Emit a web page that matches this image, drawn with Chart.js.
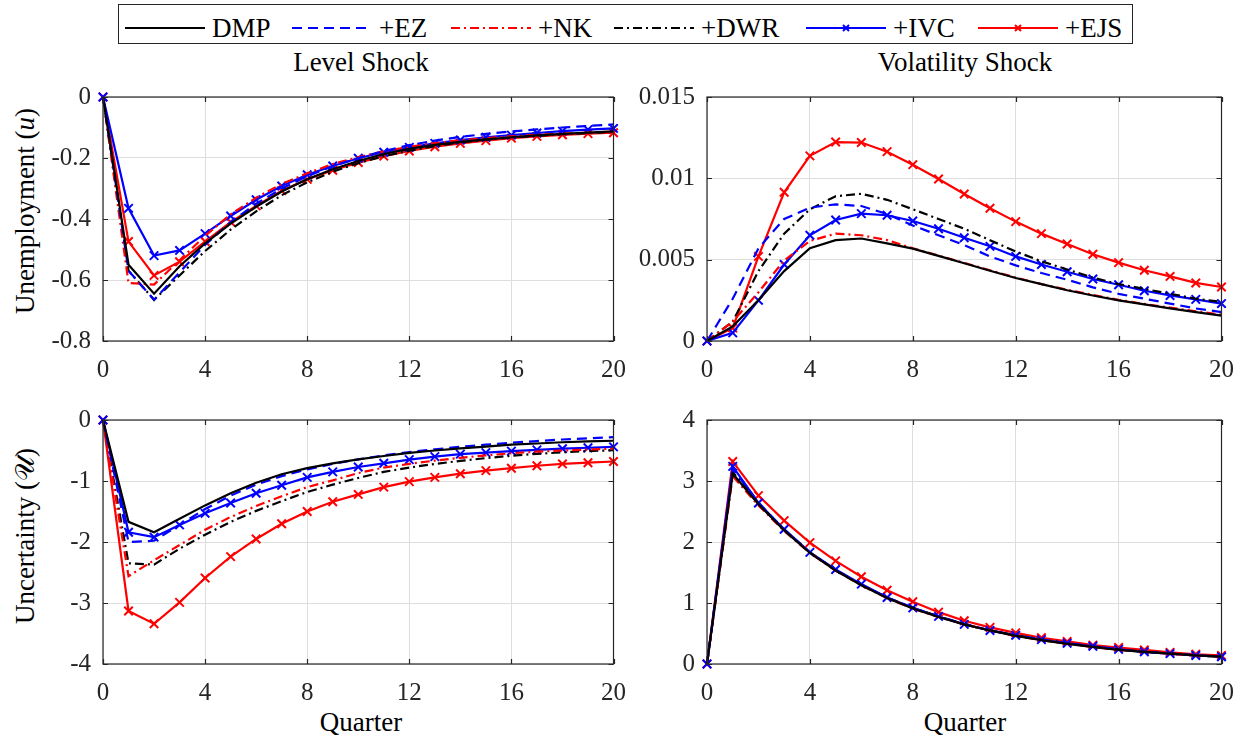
<!DOCTYPE html>
<html>
<head>
<meta charset="utf-8">
<script src="https://cdn.jsdelivr.net/npm/chart.js@4/dist/chart.umd.min.js"></script>
<style>
  html, body { margin:0; padding:0; background:#fff; }
  body { width:1248px; height:738px; position:relative; overflow:hidden; font-family:"Liberation Serif", "Times New Roman", Tinos, serif; color:#000; }
  canvas { position:absolute; }
  .txt { position:absolute; font-size:27px; white-space:nowrap; line-height:1; }
  .ttl { transform:translate(-50%, -50%); }
  .ylab { transform:translate(-50%, -50%) rotate(-90deg); }
  #legend { position:absolute; left:118px; top:4px; width:1013px; height:38px; border:1px solid #262626; }
  #legend svg { position:absolute; top:16px; }
  #legend span { position:absolute; top:10px; font-size:27px; line-height:1; white-space:nowrap; }
</style>
</head>
<body>
<div id="legend"></div>
<div class="txt ttl" style="left:361px; top:62px;">Level Shock</div>
<div class="txt ttl" style="left:965px; top:62px;">Volatility Shock</div>
<div class="txt ylab" style="left:25px; top:211px;">Unemployment (<i>u</i>)</div>
<div class="txt ylab" style="left:25px; top:536px;">Uncertainty (𝒰)</div>
<div class="txt ttl" style="left:361px; top:722px;">Quarter</div>
<div class="txt ttl" style="left:965px; top:722px;">Quarter</div>

<canvas id="c1" width="640" height="330" style="left:0px; top:70px;"></canvas>
<canvas id="c2" width="618" height="330" style="left:630px; top:70px;"></canvas>
<canvas id="c3" width="640" height="345" style="left:0px; top:393px;"></canvas>
<canvas id="c4" width="618" height="345" style="left:630px; top:393px;"></canvas>

<script>
// ---------------- DATA ----------------
const quarters = [0,1,2,3,4,5,6,7,8,9,10,11,12,13,14,15,16,17,18,19,20];
const seriesNames = ["DMP", "+EZ", "+NK", "+DWR", "+IVC", "+EJS"];
const xTicks = [0, 4, 8, 12, 16, 20];

// Level shock, unemployment
const levelU_DMP = [0,-0.55,-0.645,-0.555,-0.48,-0.415,-0.36,-0.31,-0.27,-0.237,-0.21,-0.187,-0.17,-0.157,-0.147,-0.139,-0.132,-0.126,-0.121,-0.117,-0.113];
const levelU_EZ  = [0,-0.57,-0.665,-0.575,-0.485,-0.41,-0.35,-0.3,-0.26,-0.227,-0.2,-0.177,-0.158,-0.143,-0.131,-0.121,-0.113,-0.106,-0.1,-0.095,-0.09];
const levelU_NK  = [0,-0.61,-0.615,-0.535,-0.455,-0.385,-0.33,-0.285,-0.25,-0.22,-0.197,-0.178,-0.163,-0.151,-0.142,-0.135,-0.129,-0.124,-0.12,-0.117,-0.114];
const levelU_DWR = [0,-0.57,-0.665,-0.585,-0.505,-0.435,-0.375,-0.322,-0.28,-0.245,-0.217,-0.194,-0.176,-0.161,-0.149,-0.14,-0.133,-0.127,-0.122,-0.118,-0.115];
const levelU_IVC = [0,-0.365,-0.52,-0.503,-0.448,-0.39,-0.337,-0.292,-0.255,-0.226,-0.201,-0.181,-0.165,-0.152,-0.141,-0.132,-0.125,-0.118,-0.112,-0.107,-0.103];
const levelU_EJS = [0,-0.474,-0.585,-0.54,-0.474,-0.41,-0.357,-0.307,-0.27,-0.24,-0.215,-0.194,-0.177,-0.163,-0.152,-0.143,-0.135,-0.129,-0.124,-0.12,-0.117];

// Volatility shock, unemployment
const volU_DMP = [0,0.0009,0.0025,0.0043,0.0057,0.0062,0.0063,0.006,0.00568,0.00523,0.00478,0.00432,0.00387,0.0035,0.00312,0.0028,0.0025,0.00225,0.00201,0.00178,0.00156];
const volU_EZ  = [0,0.0026,0.0057,0.0075,0.0082,0.0084,0.0083,0.0078,0.0071,0.0065,0.0059,0.0052,0.00465,0.00418,0.00377,0.0033,0.0029,0.0026,0.0023,0.002,0.00178];
const volU_NK  = [0,0.0012,0.003,0.00495,0.00615,0.0066,0.0065,0.0062,0.0057,0.00525,0.0048,0.00435,0.0039,0.0035,0.00315,0.00283,0.00253,0.00228,0.00205,0.00183,0.00162];
const volU_DWR = [0,0.0012,0.0043,0.0066,0.0081,0.0089,0.00905,0.00868,0.0081,0.0075,0.0069,0.0062,0.0055,0.0049,0.0044,0.0039,0.0035,0.0032,0.0029,0.0026,0.0024];
const volU_IVC = [0,0.0005,0.0025,0.0047,0.0065,0.00744,0.00783,0.00773,0.00738,0.0069,0.00635,0.00582,0.0052,0.0047,0.00426,0.00381,0.00346,0.00309,0.0028,0.00256,0.0023];
const volU_EJS = [0,0.0008,0.0052,0.00914,0.01138,0.01223,0.0122,0.01164,0.01084,0.00996,0.00904,0.00816,0.00734,0.0066,0.00596,0.00533,0.00482,0.00435,0.00397,0.00357,0.00332];

// Level shock, uncertainty
const levelX_DMP = [0,-1.67,-1.84,-1.62,-1.4,-1.2,-1.03,-0.89,-0.79,-0.71,-0.645,-0.59,-0.54,-0.5,-0.465,-0.435,-0.405,-0.385,-0.365,-0.352,-0.34];
const levelX_EZ  = [0,-2.0,-1.98,-1.72,-1.46,-1.24,-1.06,-0.92,-0.81,-0.72,-0.645,-0.58,-0.525,-0.48,-0.44,-0.405,-0.372,-0.345,-0.32,-0.3,-0.28];
const levelX_NK  = [0,-2.56,-2.3,-2.05,-1.8,-1.59,-1.41,-1.25,-1.1,-0.99,-0.87,-0.78,-0.72,-0.665,-0.62,-0.58,-0.545,-0.52,-0.5,-0.485,-0.47];
const levelX_DWR = [0,-2.35,-2.37,-2.11,-1.88,-1.67,-1.49,-1.33,-1.18,-1.06,-0.95,-0.85,-0.78,-0.72,-0.67,-0.625,-0.585,-0.555,-0.53,-0.51,-0.495];
const levelX_IVC = [0,-1.84,-1.92,-1.72,-1.53,-1.36,-1.2,-1.07,-0.94,-0.85,-0.77,-0.71,-0.65,-0.6,-0.56,-0.535,-0.51,-0.49,-0.47,-0.455,-0.44];
const levelX_EJS = [0,-3.13,-3.34,-2.99,-2.59,-2.24,-1.95,-1.7,-1.5,-1.34,-1.22,-1.1,-1.01,-0.94,-0.88,-0.83,-0.79,-0.75,-0.72,-0.7,-0.68];

// Volatility shock, uncertainty
const volX_DMP = [0,3.12,2.62,2.19,1.82,1.53,1.29,1.08,0.91,0.77,0.65,0.55,0.46,0.39,0.33,0.28,0.23,0.2,0.17,0.14,0.12];
const volX_EZ  = [0,3.2,2.65,2.2,1.83,1.54,1.3,1.09,0.92,0.78,0.66,0.55,0.47,0.4,0.34,0.29,0.24,0.2,0.17,0.14,0.12];
const volX_NK  = [0,3.08,2.6,2.18,1.82,1.53,1.29,1.08,0.91,0.77,0.65,0.55,0.46,0.39,0.33,0.28,0.23,0.2,0.17,0.14,0.12];
const volX_DWR = [0,3.15,2.63,2.2,1.83,1.54,1.3,1.09,0.92,0.78,0.65,0.55,0.47,0.4,0.34,0.28,0.24,0.2,0.17,0.14,0.12];
const volX_IVC = [0,3.24,2.64,2.21,1.83,1.55,1.31,1.09,0.92,0.78,0.65,0.55,0.47,0.4,0.34,0.29,0.24,0.2,0.17,0.14,0.12];
const volX_EJS = [0,3.32,2.76,2.35,1.99,1.69,1.43,1.21,1.02,0.85,0.71,0.6,0.51,0.43,0.37,0.31,0.27,0.23,0.19,0.16,0.14];

// ---------------- STYLES ----------------
const styles = [
  { color:"#000000", dash:[],          marker:false },
  { color:"#0000ff", dash:[10,6],      marker:false },
  { color:"#ff0000", dash:[9,4,2,4],   marker:false },
  { color:"#000000", dash:[9,4,2,4],   marker:false },
  { color:"#0000ff", dash:[],          marker:true  },
  { color:"#ff0000", dash:[],          marker:true  }
];
// legend layout (pixel offsets inside the legend box)
const legendLineLeft = [6, 173, 332, 495, 687, 859];

const FONT = "'Liberation Serif', 'Times New Roman', Tinos, serif";
const AX = "#262626";

function makeDatasets(arrs) {
  return arrs.map((arr, i) => ({
    label: seriesNames[i],
    data: quarters.map((q, k) => ({ x: q, y: arr[k] })),
    borderColor: styles[i].color,
    backgroundColor: styles[i].color,
    borderWidth: 2.2,
    borderDash: styles[i].dash,
    pointStyle: styles[i].marker ? "crossRot" : false,
    pointRadius: styles[i].marker ? 6 : 0,
    pointBorderWidth: 2,
    pointBorderColor: styles[i].color,
    tension: 0,
    clip: false
  }));
}

const boxPlugin = {
  id: "matlabBox",
  afterDraw(chart) {
    const { ctx, chartArea: a, scales } = chart;
    ctx.save();
    ctx.strokeStyle = AX;
    ctx.lineWidth = 1.2;
    ctx.setLineDash([]);
    ctx.strokeRect(a.left, a.top, a.right - a.left, a.bottom - a.top);
    const tl = 5;
    ctx.beginPath();
    scales.x.ticks.forEach(t => {
      const px = Math.round(scales.x.getPixelForValue(t.value)) + 0.5;
      ctx.moveTo(px, a.bottom); ctx.lineTo(px, a.bottom - tl);
      ctx.moveTo(px, a.top); ctx.lineTo(px, a.top + tl);
    });
    scales.y.ticks.forEach(t => {
      const py = Math.round(scales.y.getPixelForValue(t.value)) + 0.5;
      ctx.moveTo(a.left, py); ctx.lineTo(a.left + tl, py);
      ctx.moveTo(a.right, py); ctx.lineTo(a.right - tl, py);
    });
    ctx.stroke();
    ctx.restore();
  }
};

function fmt(v) {
  const r = parseFloat(Number(v).toFixed(4));
  return r === 0 ? "0" : String(r);
}

function makeChart(id, arrs, yMin, yMax, yStep, yWidth, padRight, xHeight) {
  return new Chart(document.getElementById(id), {
    type: "line",
    data: { datasets: makeDatasets(arrs) },
    options: {
      responsive: false,
      animation: false,
      events: [],
      layout: { padding: { left: 0, right: padRight, top: 15, bottom: 0 } },
      plugins: { legend: { display: false }, tooltip: { enabled: false } },
      scales: {
        x: {
          type: "linear", min: 0, max: 20,
          afterBuildTicks: s => { s.ticks = xTicks.map(v => ({ value: v })); },
          afterFit: s => { s.height = xHeight; },
          grid: { color: "#dedede", lineWidth: 1, drawTicks: false },
          border: { display: false },
          ticks: { color: AX, font: { family: FONT, size: 25 }, padding: 14, maxRotation: 0, callback: v => fmt(v) }
        },
        y: {
          type: "linear", min: yMin, max: yMax,
          afterBuildTicks: s => {
            const t = [];
            const n = Math.round((yMax - yMin) / yStep);
            for (let k = 0; k <= n; k++) t.push({ value: yMin + k * yStep });
            s.ticks = t;
          },
          afterFit: s => { s.width = yWidth; },
          grid: { color: "#dedede", lineWidth: 1, drawTicks: false },
          border: { display: false },
          ticks: { color: AX, font: { family: FONT, size: 25 }, padding: 12, callback: v => fmt(v) }
        }
      }
    },
    plugins: [boxPlugin]
  });
}

makeChart("c1", [levelU_DMP, levelU_EZ, levelU_NK, levelU_DWR, levelU_IVC, levelU_EJS], -0.8, 0, 0.2, 103, 21, 59);
makeChart("c2", [volU_DMP, volU_EZ, volU_NK, volU_DWR, volU_IVC, volU_EJS], 0, 0.015, 0.005, 77, 25, 59);
makeChart("c3", [levelX_DMP, levelX_EZ, levelX_NK, levelX_DWR, levelX_IVC, levelX_EJS], -4, 0, 1, 103, 21, 74);
makeChart("c4", [volX_DMP, volX_EZ, volX_NK, volX_DWR, volX_IVC, volX_EJS], 0, 4, 1, 77, 25, 74);

// ---------------- LEGEND ----------------
const legend = document.getElementById("legend");
const svgNS = "http://www.w3.org/2000/svg";
seriesNames.forEach((name, i) => {
  const st = styles[i];
  const x0 = legendLineLeft[i];
  const svg = document.createElementNS(svgNS, "svg");
  svg.setAttribute("width", "80"); svg.setAttribute("height", "14");
  svg.style.left = x0 + "px";
  const line = document.createElementNS(svgNS, "line");
  line.setAttribute("x1", "0"); line.setAttribute("x2", "80");
  line.setAttribute("y1", "7"); line.setAttribute("y2", "7");
  line.setAttribute("stroke", st.color); line.setAttribute("stroke-width", "2.2");
  if (st.dash.length) line.setAttribute("stroke-dasharray", st.dash.join(","));
  svg.appendChild(line);
  if (st.marker) {
    const p = document.createElementNS(svgNS, "path");
    p.setAttribute("d", "M37,4 L43,10 M43,4 L37,10");
    p.setAttribute("stroke", st.color); p.setAttribute("stroke-width", "2");
    svg.appendChild(p);
  }
  legend.appendChild(svg);
  const sp = document.createElement("span");
  sp.textContent = name;
  sp.style.left = (x0 + 87) + "px";
  legend.appendChild(sp);
});
</script>
</body>
</html>
